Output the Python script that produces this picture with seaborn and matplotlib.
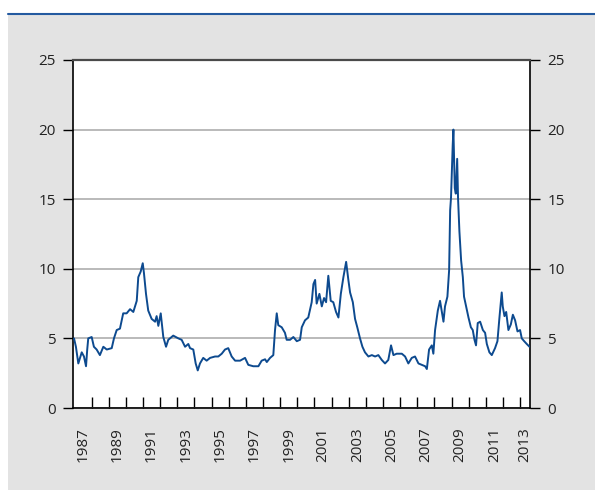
import matplotlib
matplotlib.use("Agg")
import matplotlib.pyplot as plt
import seaborn as sns
import pandas as pd
from matplotlib.patches import Rectangle
from matplotlib.lines import Line2D
from matplotlib.ticker import FixedLocator, NullFormatter

# ---- data ----
years = [1986.97, 1987.08, 1987.16, 1987.22, 1987.42, 1987.55, 1987.67, 1987.74, 1987.80,
         1988.00, 1988.13, 1988.29, 1988.48, 1988.68, 1988.88, 1989.17, 1989.30, 1989.46,
         1989.65, 1989.84, 1990.04, 1990.24, 1990.43, 1990.63, 1990.72, 1990.86, 1990.98,
         1991.05, 1991.17, 1991.30, 1991.50, 1991.70, 1991.79, 1991.89, 1992.03, 1992.18,
         1992.34, 1992.47, 1992.76, 1993.06, 1993.25, 1993.45, 1993.64, 1993.74, 1993.93,
         1994.07, 1994.19, 1994.32, 1994.51, 1994.71, 1994.91, 1995.20, 1995.39, 1995.59,
         1995.78, 1995.97, 1996.17, 1996.37, 1996.66, 1996.95, 1997.14, 1997.43, 1997.73,
         1997.92, 1998.12, 1998.22, 1998.41, 1998.60, 1998.70, 1998.80, 1998.89, 1999.09,
         1999.28, 1999.38, 1999.58, 1999.77, 1999.97, 2000.16, 2000.26, 2000.45, 2000.64,
         2000.84, 2000.94, 2001.04, 2001.13, 2001.29, 2001.43, 2001.56, 2001.68, 2001.81,
         2001.95, 2002.10, 2002.26, 2002.40, 2002.54, 2002.69, 2002.85, 2002.98, 2003.08,
         2003.24, 2003.37, 2003.50, 2003.66, 2003.80, 2003.95, 2004.15, 2004.35, 2004.54,
         2004.73, 2004.93, 2005.12, 2005.31, 2005.47, 2005.61, 2005.80, 2006.10, 2006.29,
         2006.48, 2006.68, 2006.87, 2007.07, 2007.26, 2007.46, 2007.56, 2007.69, 2007.85,
         2007.94, 2008.04, 2008.20, 2008.33, 2008.53, 2008.62, 2008.76, 2008.86, 2008.92,
         2008.97, 2009.07, 2009.11, 2009.19, 2009.25, 2009.33, 2009.38, 2009.46, 2009.56,
         2009.66, 2009.73, 2009.85, 2009.99, 2010.13, 2010.24, 2010.34, 2010.43, 2010.53,
         2010.67, 2010.83, 2010.96, 2011.06, 2011.21, 2011.35, 2011.54, 2011.68, 2011.79,
         2011.93, 2011.99, 2012.09, 2012.19, 2012.32, 2012.46, 2012.58, 2012.71, 2012.85,
         2013.00, 2013.10, 2013.24, 2013.39, 2013.55]
values = [5.0, 4.4, 3.7, 3.2, 4.0, 3.7, 3.0, 4.2, 5.0,
          5.1, 4.4, 4.2, 3.8, 4.4, 4.2, 4.3, 5.0, 5.6,
          5.7, 6.8, 6.8, 7.1, 6.9, 7.7, 9.4, 9.8, 10.4,
          9.7, 8.2, 7.0, 6.4, 6.2, 6.6, 5.9, 6.8, 5.1,
          4.4, 4.9, 5.2, 5.0, 4.9, 4.4, 4.6, 4.3, 4.2,
          3.2, 2.7, 3.2, 3.6, 3.4, 3.6, 3.7, 3.7, 3.9,
          4.2, 4.3, 3.7, 3.4, 3.4, 3.6, 3.1, 3.0, 3.0,
          3.4, 3.5, 3.3, 3.6, 3.8, 5.6, 6.8, 5.95, 5.8,
          5.4, 4.9, 4.9, 5.1, 4.8, 4.9, 5.8, 6.3, 6.5,
          7.6, 8.9, 9.2, 7.5, 8.2, 7.3, 7.9, 7.6, 9.5,
          7.7, 7.6, 6.9, 6.5, 8.2, 9.4, 10.5, 9.2, 8.3,
          7.6, 6.4, 5.8, 5.0, 4.4, 4.0, 3.7, 3.8, 3.7,
          3.8, 3.45, 3.2, 3.45, 4.5, 3.8, 3.9, 3.9, 3.7,
          3.2, 3.6, 3.7, 3.2, 3.1, 3.0, 2.8, 4.2, 4.5,
          3.9, 5.6, 7.0, 7.7, 6.2, 7.3, 8.0, 9.9, 14.2,
          15.1, 18.9, 20.0, 15.8, 15.4, 17.9, 15.1, 12.7, 10.6,
          9.4, 8.0, 7.3, 6.5, 5.8, 5.6, 4.9, 4.5, 6.1,
          6.2, 5.6, 5.4, 4.6, 4.0, 3.8, 4.3, 4.8, 6.4,
          8.3, 7.3, 6.6, 6.9, 5.6, 6.0, 6.7, 6.3, 5.5,
          5.6, 5.0, 4.8, 4.6, 4.4]
tick_years = list(range(1988, 2014))
label_years = list(range(1987, 2014, 2))
y_ticks = [0, 5, 10, 15, 20, 25]

# ---- style ----
sns.set_style("white")
plt.rcParams['font.family'] = ['Open Sans', 'DejaVu Sans']

W, H = 595, 491
fig = plt.figure(figsize=(W / 100, H / 100), dpi=100)
fig.patch.set_facecolor('white')
fig.patches.append(Rectangle((8 / W, 1.5 / H), 1, (476 / H), transform=fig.transFigure,
                             facecolor='#e3e3e3', edgecolor='none', zorder=-10))
fig.lines.append(Line2D([8 / W, 1], [1 - 13.5 / H, 1 - 13.5 / H], transform=fig.transFigure,
                        color='#245aa0', lw=1.5, zorder=-5))

xmin, xmax = 1986.91, 2013.58
ax = fig.add_axes([73 / W, 1 - 408 / H, (530 - 73) / W, (408 - 60) / H])
ax.set_zorder(5)
ax.set_facecolor('white')

df = pd.DataFrame({'year': years, 'value': values})
sns.lineplot(data=df, x='year', y='value', ax=ax, color='#0d4a8f', lw=1.4, zorder=3)

ax.set_xlim(xmin, xmax)
ax.set_ylim(0, 25)
ax.set_xlabel('')
ax.set_ylabel('')

ax.set_yticks(y_ticks)
ax.set_yticklabels([str(v) for v in y_ticks])
ax.yaxis.grid(True, color='#b4b4b4', lw=1.3)
ax.xaxis.grid(False)
ax.set_axisbelow(True)
ax.tick_params(axis='y', which='major', direction='out', length=7.5, width=1,
               color='black', labelsize=11, pad=5, left=True, right=True,
               labelleft=True, labelright=True, labelcolor='#222222')

ax.xaxis.set_major_locator(FixedLocator(tick_years))
ax.xaxis.set_major_formatter(NullFormatter())
label_pos = [y + 0.5 for y in label_years[:-1]] + [(label_years[-1] + xmax) / 2]
ax.set_xticks(label_pos, minor=True)
ax.set_xticklabels([str(y) for y in label_years], minor=True, rotation=90)
ax.tick_params(axis='x', which='major', direction='in', length=8, width=1,
               color='black', bottom=True)
ax.tick_params(axis='x', which='minor', length=0, pad=14, labelsize=11,
               labelcolor='#222222', bottom=True)

for side in ['left', 'right', 'bottom']:
    ax.spines[side].set_color('black')
    ax.spines[side].set_linewidth(1.2)
ax.spines['top'].set_color('#4a4a4a')
ax.spines['top'].set_linewidth(1.6)

fig.savefig('out.png', dpi=100)
